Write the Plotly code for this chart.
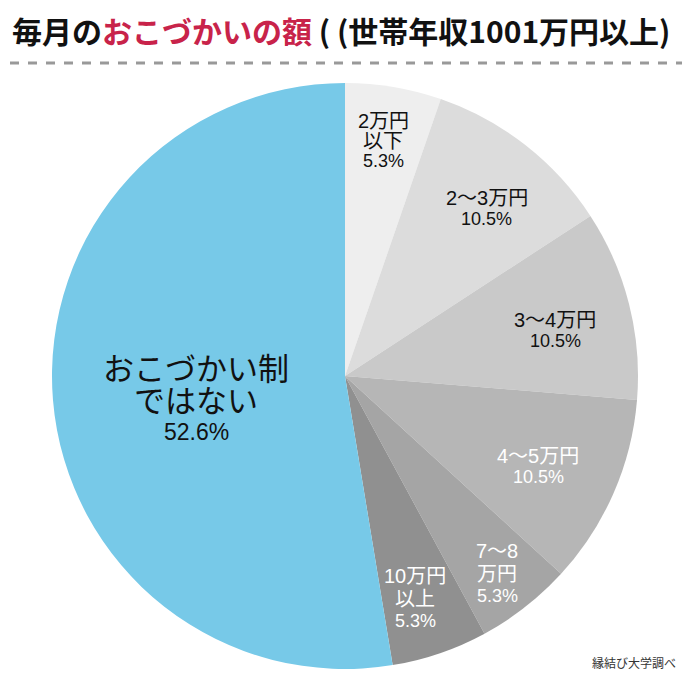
import plotly.graph_objects as go

# data
categories = ["2万円以下", "2〜3万円", "3〜4万円", "4〜5万円", "7〜8万円", "10万円以上", "おこづかい制ではない"]
shares = [5.3, 10.5, 10.5, 10.5, 5.3, 5.3, 52.6]
label_lines = [
    ["2万円", "以下"],
    ["2〜3万円"],
    ["3〜4万円"],
    ["4〜5万円"],
    ["7〜8", "万円"],
    ["10万円", "以上"],
    ["おこづかい制", "ではない"],
]
pct_labels = ["5.3%", "10.5%", "10.5%", "10.5%", "5.3%", "5.3%", "52.6%"]

colors = ["#eeeeee", "#dcdcdc", "#c9c9c9", "#b6b6b6", "#a5a5a5", "#909090", "#77c9e8"]
text_colors = ["#111", "#111", "#111", "#fff", "#fff", "#fff", "#111"]

W, H = 690, 684
OFF = 8  # page body margin
FONT = "Liberation Sans, Noto Sans CJK JP, sans-serif"


def px(x):
    return (x - OFF) / W


def py(y):
    return 1 - (y - OFF) / H


fig = go.Figure(
    go.Pie(
        labels=categories,
        values=shares,
        sort=False,
        direction="clockwise",
        rotation=0,
        marker=dict(colors=colors, line=dict(width=0)),
        textinfo="none",
        hoverinfo="label+percent",
        showlegend=False,
        domain=dict(x=[px(345 - 293), px(345 + 293)], y=[py(669), py(83)]),
    )
)

# label placement (pixel centres of each line, top line first)
label_pos = [
    (383, [121, 141, 161]),
    (487, [198, 219]),
    (555, [320, 341]),
    (538, [456, 477]),
    (497, [551, 574, 596]),
    (415, [576, 599, 621]),
    (196, [369, 401, 432]),
]

ann = []
for i, (cx, ys) in enumerate(label_pos):
    lines = label_lines[i] + [pct_labels[i]]
    big = i == 6
    for j, (txt, yy) in enumerate(zip(lines, ys)):
        if big:
            size = 23 if j == len(lines) - 1 else 31
        else:
            size = 18 if j == len(lines) - 1 else 20
        ann.append(dict(
            x=px(cx), y=py(yy), xref="paper", yref="paper",
            text=txt, showarrow=False, xanchor="center", yanchor="middle",
            font=dict(family=FONT, size=size, color=text_colors[i]),
        ))

# title
ann.append(dict(
    x=px(10), y=py(30), xref="paper", yref="paper", xanchor="left", yanchor="middle",
    showarrow=False,
    text="<b>毎月の<span style='color:#c8234a'>おこづかいの額</span> ( (世帯年収1001万円以上)</b>",
    font=dict(family="Noto Sans CJK JP", size=30, color="#111"),
))
# source
ann.append(dict(
    x=px(678), y=py(662), xref="paper", yref="paper", xanchor="right", yanchor="middle",
    showarrow=False, text="縁結び大学調べ",
    font=dict(family="Noto Sans CJK JP", size=12, color="#333"),
))

fig.update_layout(
    width=W, height=H,
    margin=dict(l=0, r=0, t=0, b=0),
    paper_bgcolor="white",
    annotations=ann,
    shapes=[dict(type="line", xref="paper", yref="paper",
                 x0=px(10), x1=px(682), y0=py(63), y1=py(63),
                 line=dict(color="#999", width=3, dash="dash"))],
)

fig.write_html("out.html")
